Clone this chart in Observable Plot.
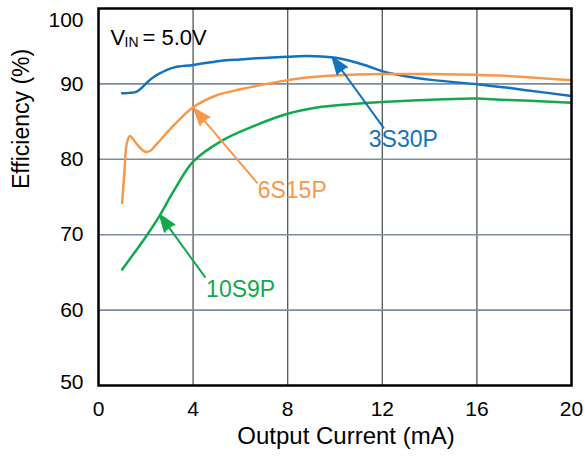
<!DOCTYPE html>
<html><head><meta charset="utf-8">
<script src="https://cdn.jsdelivr.net/npm/d3@7"></script>
<script src="https://cdn.jsdelivr.net/npm/@observablehq/plot@0.6"></script>
<style>body{margin:0;background:#fff} #chart{width:585px;height:461px}</style>
</head><body><div id="chart"></div>
<script>
const xTicks = [0, 4, 8, 12, 16, 20];
const yTicksMid = [60, 70, 80, 90];
const yTickTop = [100];
const yTickBottom = [50];
const xGrid = [4, 8, 12, 16];
const yGrid = [60, 70, 80, 90];

const seriesNames = ["3S30P", "6S15P", "10S9P"];
const seriesColors = ["#1372c0", "#f7984a", "#10aa4c"];

const current3S30P = [1.0, 1.62, 1.9, 2.2, 2.53, 3.17, 4.0, 5.14, 6.0, 7.0, 8.0, 8.8, 9.94, 10.7, 11.35, 11.98, 12.75, 14.17, 16.0, 17.0, 18.0, 20.0];
const eff3S30P     = [88.77, 88.98, 89.7, 90.6, 91.3, 92.16, 92.5, 93.05, 93.25, 93.45, 93.6, 93.7, 93.5, 93.0, 92.4, 91.7, 91.15, 90.5, 89.96, 89.6, 89.2, 88.4];

const current6S15P = [1.0, 1.1, 1.19, 1.33, 1.62, 1.97, 2.18, 2.46, 3.03, 4.0, 5.0, 5.7, 6.0, 8.0, 8.54, 10.0, 12.0, 14.17, 16.0, 17.0, 18.0, 20.0];
const eff6S15P     = [74.2, 78.5, 82.0, 83.1, 82.0, 81.0, 81.1, 82.0, 84.0, 86.9, 88.5, 89.07, 89.3, 90.5, 90.75, 91.1, 91.3, 91.3, 91.2, 91.1, 90.9, 90.5];

const current10S9P = [1.0, 1.47, 2.04, 2.6, 3.2, 4.0, 5.21, 6.41, 7.96, 9.23, 10.64, 11.98, 14.6, 16.0, 17.0, 18.0, 20.0];
const eff10S9P     = [65.4, 67.4, 69.9, 72.6, 75.9, 79.7, 82.45, 84.2, 86.0, 86.86, 87.3, 87.6, 87.97, 88.05, 87.9, 87.8, 87.5];

// annotation arrows: tail (label side) -> tip (on curve), in data units
const arrowTailX = [12.05, 6.7, 4.5];
const arrowTailY = [84.2, 76.9, 64.4];
const arrowTipX  = [9.9, 4.05, 2.6];
const arrowTipY  = [93.5, 86.7, 72.6];
const labelX = [12.89, 8.19, 6.01];
const labelY = [82.58, 75.83, 62.78];

const xTitle = "Output Current (mA)";
const yTitle = "Efficiency (%)";

const rows = [];
[[current3S30P, eff3S30P], [current6S15P, eff6S15P], [current10S9P, eff10S9P]].forEach(([xs, ys], i) => {
  xs.forEach((x, j) => rows.push({series: seriesNames[i], x, y: ys[j]}));
});
const notes = seriesNames.map((s, i) => ({
  series: s, x1: arrowTailX[i], y1: arrowTailY[i], x2: arrowTipX[i], y2: arrowTipY[i], lx: labelX[i], ly: labelY[i]
}));
const colorOf = s => seriesColors[seriesNames.indexOf(s)];
const axisOpts = {tickSize: 0, tickPadding: 15, tickFormat: d => String(d), label: null, fontSize: 21};

const chart = Plot.plot({
  width: 585,
  height: 461,
  marginLeft: 98,
  marginRight: 14,
  marginTop: 8,
  marginBottom: 76,
  style: {fontFamily: "'Liberation Sans', Arial, sans-serif", fontSize: "21px", color: "black", background: "white"},
  x: {domain: [0, 20]},
  y: {domain: [50, 100]},
  marks: [
    Plot.gridX(xGrid, {stroke: "#555", strokeOpacity: 1, strokeWidth: 1.3}),
    Plot.gridY(yGrid, {stroke: "#7d8ca3", strokeOpacity: 1, strokeWidth: 1.6}),
    Plot.axisX({ticks: xTicks, tickSize: 0, tickPadding: 16, tickFormat: d => String(d), label: null, fontSize: 21}),
    Plot.axisY({...axisOpts, ticks: yTicksMid}),
    Plot.axisY({...axisOpts, ticks: yTickTop, dy: 12}),
    Plot.axisY({...axisOpts, ticks: yTickBottom, dy: -3}),
    Plot.line(rows, {x: "x", y: "y", z: "series", stroke: d => colorOf(d.series), strokeWidth: 2.5, curve: "catmull-rom"}),
    Plot.arrow(notes, {x1: "x1", y1: "y1", x2: "x2", y2: "y2", stroke: d => colorOf(d.series), fill: d => colorOf(d.series), strokeWidth: 2, headLength: 13, headAngle: 40}),
    Plot.text(notes, {x: "lx", y: "ly", text: "series", fill: d => colorOf(d.series), fontSize: 23}),
    Plot.text(["V"], {frameAnchor: "top-left", dx: 12, dy: 21, textAnchor: "start", fontSize: 22}),
    Plot.text(["IN"], {frameAnchor: "top-left", dx: 26, dy: 29, textAnchor: "start", fontSize: 14}),
    Plot.text(["= 5.0V"], {frameAnchor: "top-left", dx: 44, dy: 21, textAnchor: "start", fontSize: 22}),
    Plot.text([xTitle], {frameAnchor: "bottom", dx: 11, dy: 58, fontSize: 24}),
    Plot.text([yTitle], {frameAnchor: "left", dx: -77, dy: -8, rotate: -90, fontSize: 23}),
    Plot.frame({stroke: "black", strokeWidth: 2.5})
  ]
});
document.getElementById("chart").appendChild(chart);
</script>
</body></html>
